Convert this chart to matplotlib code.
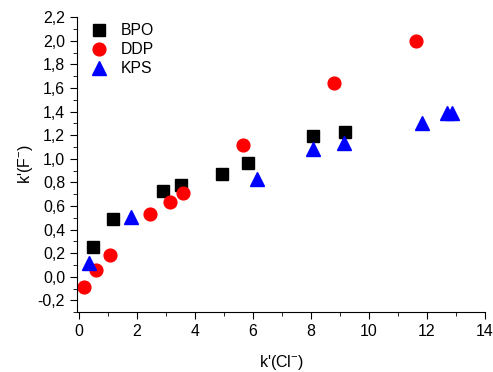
import matplotlib
matplotlib.use("Agg")
import matplotlib.pyplot as plt
from matplotlib.ticker import MultipleLocator, FuncFormatter

plt.rcParams['font.family'] = ['Liberation Sans', 'DejaVu Sans']
plt.rcParams['mathtext.fontset'] = 'custom'
plt.rcParams['mathtext.rm'] = 'Liberation Sans'
plt.rcParams['mathtext.it'] = 'Liberation Sans'

bpo_x = [0.49, 1.18, 2.92, 3.52, 4.93, 5.84, 8.08, 9.19]
bpo_y = [0.25, 0.49, 0.73, 0.78, 0.87, 0.96, 1.19, 1.23]

ddp_x = [0.17, 0.60, 1.08, 2.47, 3.16, 3.61, 5.67, 8.80, 11.61]
ddp_y = [-0.09, 0.054, 0.18, 0.53, 0.63, 0.71, 1.12, 1.64, 2.00]

kps_x = [0.34, 1.80, 6.16, 8.06, 9.13, 11.81, 12.69, 12.87]
kps_y = [0.12, 0.51, 0.83, 1.08, 1.13, 1.30, 1.39, 1.39]

fig = plt.figure(figsize=(4.93, 3.72), dpi=100)
ax = fig.add_axes([0.156, 0.161, 0.828, 0.793])

ax.plot(bpo_x, bpo_y, 's', color='black', markersize=8.6, linestyle='none', label='BPO')
ax.plot(ddp_x, ddp_y, 'o', color='red', markersize=9.2, linestyle='none', label='DDP')
ax.plot(kps_x, kps_y, '^', color='blue', markersize=10, linestyle='none', label='KPS')

ax.set_xlim(-0.06, 14)
ax.set_ylim(-0.3, 2.2)
ax.xaxis.set_major_locator(MultipleLocator(2))
ax.xaxis.set_minor_locator(MultipleLocator(1))
ax.yaxis.set_major_locator(MultipleLocator(0.2))
ax.yaxis.set_minor_locator(MultipleLocator(0.1))
ax.yaxis.set_major_formatter(FuncFormatter(lambda v, p: f"{v:.1f}".replace('.', ',').replace('-0,0', '0,0')))

for s in ['top', 'right']:
    ax.spines[s].set_visible(False)
ax.tick_params(which='both', direction='out', labelsize=11.4)
ax.tick_params(which='major', length=5)
ax.tick_params(which='minor', length=3)

ax.set_xlabel("k'(Cl$^{-}$)", fontsize=11.5, labelpad=10)
ax.set_ylabel("k'(F$^{-}$)", fontsize=11.5, labelpad=2)

ax.legend(loc='upper left', frameon=False, fontsize=11.3, handletextpad=0.4,
          borderaxespad=0.0, bbox_to_anchor=(0.0, 1.0), labelspacing=0.25)

fig.savefig('out.png', dpi=100)
